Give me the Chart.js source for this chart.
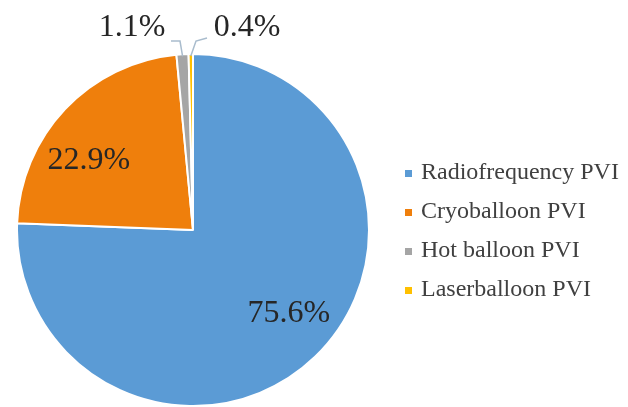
<!DOCTYPE html>
<html lang="en">

<head>
    <meta charset="UTF-8">
    <title>PVI methods</title>
    <script src="https://cdn.jsdelivr.net/npm/chart.js"></script>
    <style>
        html, body { margin: 0; padding: 0; background: #fff; }
        .janela { width: 628px; height: 407px; position: relative; }
    </style>
</head>

<body>
    <div class="janela">
        <canvas id="graficoPie" width="628" height="407"></canvas>
    </div>

<script>
    // dados do grafico
    const categorias = ['Radiofrequency PVI', 'Cryoballoon PVI', 'Hot balloon PVI', 'Laserballoon PVI'];
    const valores = [75.6, 22.9, 1.1, 0.4];
    const rotulos = ['75.6%', '22.9%', '1.1%', '0.4%'];
    const cores = ['#5B9BD5', '#EF7F0C', '#A5A5A5', '#FFC000'];

    // rotulos das fatias: dentro (fração do raio) ou fora com linha guia
    const posRotulo = [
        { dentro: true, r: 0.72, dx: 8, dy: -8 },
        { dentro: true, r: 0.72, dx: -12, dy: 18 },
        { dentro: false, x: 132, y: 28, linha: [[171, 41], [180, 41]] },
        { dentro: false, x: 247, y: 28, linha: [[207, 38], [196, 41]] }
    ];

    const pluginRotulos = {
        id: 'rotulos',
        afterDatasetsDraw(chart) {
            const ctx = chart.ctx;
            const meta = chart.getDatasetMeta(0);
            ctx.save();
            ctx.font = '32px "Liberation Serif", "Times New Roman", serif';
            ctx.textAlign = 'center';
            ctx.textBaseline = 'middle';
            meta.data.forEach(function (arc, i) {
                const p = arc.getProps(['x', 'y', 'startAngle', 'endAngle', 'outerRadius'], true);
                const meio = (p.startAngle + p.endAngle) / 2;
                const cfg = posRotulo[i];
                if (cfg.dentro) {
                    const x = p.x + Math.cos(meio) * p.outerRadius * cfg.r + cfg.dx;
                    const y = p.y + Math.sin(meio) * p.outerRadius * cfg.r + cfg.dy;
                    ctx.fillStyle = '#262626';
                    ctx.fillText(rotulos[i], x, y);
                } else {
                    const bx = p.x + Math.cos(meio) * (p.outerRadius - 2);
                    const by = p.y + Math.sin(meio) * (p.outerRadius - 2);
                    ctx.strokeStyle = '#A9BCCD';
                    ctx.lineWidth = 1.5;
                    ctx.beginPath();
                    ctx.moveTo(cfg.linha[0][0], cfg.linha[0][1]);
                    ctx.lineTo(cfg.linha[1][0], cfg.linha[1][1]);
                    ctx.lineTo(bx, by);
                    ctx.stroke();
                    ctx.fillStyle = '#262626';
                    ctx.fillText(rotulos[i], cfg.x, cfg.y);
                }
            });
            ctx.restore();
        }
    };

    const pluginLegenda = {
        id: 'legenda',
        afterDraw(chart) {
            const ctx = chart.ctx;
            const cor = chart.data.datasets[0].backgroundColor;
            ctx.save();
            ctx.font = '24px "Liberation Serif", "Times New Roman", serif';
            ctx.textAlign = 'left';
            ctx.textBaseline = 'middle';
            chart.data.labels.forEach(function (nome, i) {
                const y = 173 + i * 39;
                ctx.fillStyle = cor[i];
                ctx.fillRect(405, y - 3, 7, 7);
                ctx.fillStyle = '#404040';
                ctx.fillText(nome, 421, y);
            });
            ctx.restore();
        }
    };

    const ctx = document.getElementById('graficoPie');
    new Chart(ctx, {
        type: 'pie',
        data: {
            labels: categorias,
            datasets: [{
                data: valores,
                backgroundColor: cores,
                borderColor: '#ffffff',
                borderWidth: 2
            }]
        },
        options: {
            responsive: false,
            animation: false,
            layout: {
                padding: { top: 53, bottom: 0, left: 16, right: 258 }
            },
            plugins: {
                legend: { display: false },
                tooltip: { enabled: false }
            }
        },
        plugins: [pluginRotulos, pluginLegenda]
    });
</script>
</body>

</html>
